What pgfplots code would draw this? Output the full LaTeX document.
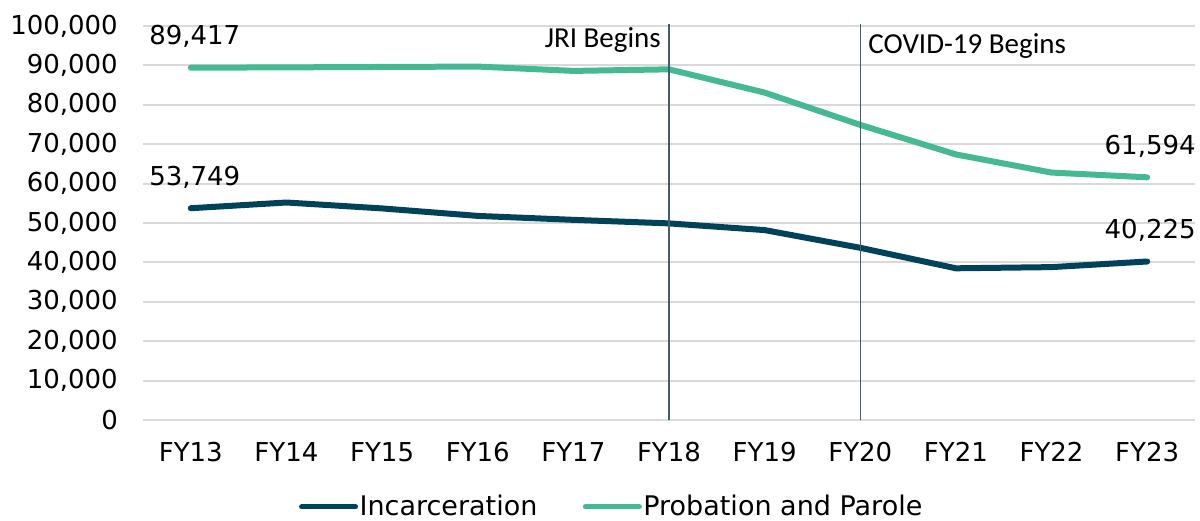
\documentclass[border=0pt]{standalone}
\usepackage{pgfplots}
\pgfplotsset{compat=1.18}
\usepackage{fontspec}
\setmainfont{DejaVu Sans}
\newfontfamily\calfont{Carlito}
\definecolor{incar}{HTML}{00425A}
\definecolor{prob}{HTML}{45B994}
\definecolor{gridc}{HTML}{D9D9D9}
\definecolor{vline}{HTML}{3F5F6E}
\begin{document}
\fontsize{25}{30}\selectfont
\begin{tikzpicture}
\begin{axis}[
  at={(0,0)}, anchor=south west,
  scale only axis, width=1052pt, height=394pt,
  xmin=-0.5, xmax=10.5, ymin=0, ymax=100000,
  xtick={0,...,10},
  xticklabels={FY13,FY14,FY15,FY16,FY17,FY18,FY19,FY20,FY21,FY22,FY23},
  ytick={0,10000,20000,30000,40000,50000,60000,70000,80000,90000,100000},
  yticklabels={0,{10,000},{20,000},{30,000},{40,000},{50,000},{60,000},{70,000},{80,000},{90,000},{100,000}},
  scaled y ticks=false,
  yticklabel style={inner sep=0pt, anchor=east, xshift=-25pt},
  xticklabel style={inner sep=0pt, anchor=north, yshift=-22pt},
  ticklabel style={font=\fontsize{26}{30}\selectfont},
  axis line style={draw=none},
  major tick length=0pt,
  ymajorgrids, grid style={gridc, line width=2pt},
  clip=false,
  legend columns=2,
  legend style={at={(0.4453,-0.2208)}, anchor=center, draw=none, fill=none,
    font=\fontsize{27}{30}\selectfont,
    /tikz/every even column/.append style={column sep=44pt},
    nodes={inner sep=1.5pt}},
  legend image code/.code={\draw[#1, line width=5pt, line cap=round] (0pt,0pt) -- (54pt,0pt);},
]
\addplot[incar, line width=6pt, line join=round, line cap=round] coordinates {
(0,53749) (1,55200) (2,53700) (3,51800) (4,50800) (5,49900) (6,48200) (7,43700) (8,38500) (9,38800) (10,40225)};
\addlegendentry{Incarceration}
\addplot[prob, line width=6pt, line join=round, line cap=round] coordinates {
(0,89417) (1,89500) (2,89600) (3,89700) (4,88600) (5,89000) (6,83100) (7,74900) (8,67400) (9,62800) (10,61594)};
\addlegendentry{Probation and Parole}
\draw[vline, line width=1.5pt] (axis cs:5,0) -- (axis cs:5,100600);
\draw[vline, line width=1.5pt] (axis cs:7,0) -- (axis cs:7,100600);
\node[anchor=base east, inner sep=0pt, font=\calfont\fontsize{29}{30}\selectfont] at (axis cs:5,94500) [xshift=-8pt] {JRI Begins};
\node[anchor=base west, inner sep=0pt, font=\calfont\fontsize{29}{30}\selectfont] at (axis cs:7,93000) [xshift=8pt] {COVID-19 Begins};
\node[inner sep=0pt, font=\fontsize{26}{30}\selectfont] at (axis cs:0,89417) [yshift=31pt, xshift=4pt] {89,417};
\node[inner sep=0pt, font=\fontsize{26}{30}\selectfont] at (axis cs:0,53749) [yshift=31pt, xshift=4pt] {53,749};
\node[inner sep=0pt, font=\fontsize{26}{30}\selectfont] at (axis cs:10,61594) [yshift=31pt, xshift=3pt] {61,594};
\node[inner sep=0pt, font=\fontsize{26}{30}\selectfont] at (axis cs:10,40225) [yshift=31pt, xshift=3pt] {40,225};
\end{axis}
\pgfresetboundingbox
\path[use as bounding box] (-143pt,-101pt) rectangle (1057pt,420pt);
\end{tikzpicture}
\end{document}
